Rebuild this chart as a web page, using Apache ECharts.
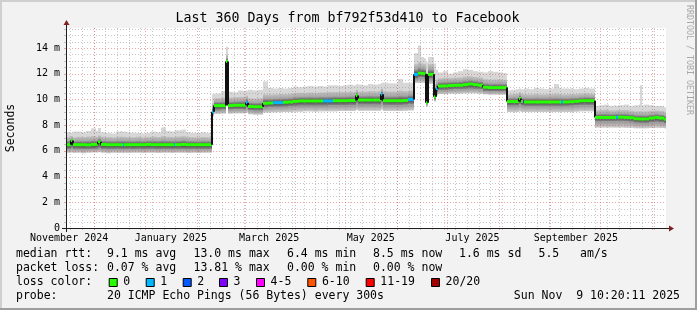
<!DOCTYPE html>
<html><head><meta charset="utf-8">
<script src="https://cdn.jsdelivr.net/npm/echarts@6/dist/echarts.min.js"></script>
<style>html,body{margin:0;padding:0;background:#f2f2f2}#c{width:697px;height:310px}</style>
</head><body><div id="c"></div>
<script>
// ---------------- data (days since graph start, 360 day window) ----------------
const TOTAL_DAYS = 360;
const dayStart = [0,3,4,6,9,12,15,18,19,21,24,27,30,33,34,35,36,39,42,45,48,51,54,57,60,63,64.5,65.5,69,72,75,78,81,84,
87.8,89,93,96.2,97,100,103,106,108,109,112,115,118,121,124,127,130,133,136,139,142,145,148,151,154,157,160,163,166,169,172,174,175,178,181,184,187,189,190,193,196,199,202,205,
208.8,211.2,213,215,216.2,217,220.8,222,223.2,226,229,232,235,238,241,244,247,250,253,256,259,262,
264.3,267,270,272,273,274,275,278,281,284,287,290,293,296,297.2,298.2,302,305,308,311,314,
317.4,320,323,326,329,330,331,335,338,341,344,344.5,345.3,347,350,353,356,358.5];
// median rtt (ms)
const median = [6.48,6.80,6.48,6.48,6.48,6.46,6.50,6.52,6.70,6.50,6.48,6.48,6.48,6.48,6.48,6.48,6.48,6.48,6.48,6.48,6.50,6.48,6.48,6.48,6.48,6.48,6.48,6.48,6.50,6.48,6.48,6.48,6.48,6.48,
9.05,9.52,9.52,12.95,9.52,9.55,9.55,9.55,9.75,9.45,9.43,9.43,9.70,9.72,9.75,9.75,9.78,9.80,9.85,9.88,9.88,9.88,9.88,9.88,9.88,9.88,9.90,9.90,9.90,9.92,9.92,10.30,9.95,9.95,9.95,9.95,9.95,10.40,9.90,9.90,9.90,9.90,9.92,10.00,
11.95,12.05,12.03,12.00,9.75,11.95,10.20,10.85,11.04,11.05,11.08,11.10,11.10,11.15,11.20,11.15,11.10,10.95,10.92,10.92,10.92,10.92,
9.83,9.83,9.83,10.08,9.83,9.83,9.80,9.80,9.80,9.80,9.80,9.80,9.80,9.80,9.80,9.80,9.82,9.85,9.90,9.90,9.90,
8.60,8.60,8.60,8.60,8.60,8.62,8.62,8.60,8.58,8.50,8.48,8.48,8.48,8.48,8.55,8.60,8.55,8.45];
// lost pings out of 20
const lossPings = [0,0,0,0,0,0,0,0,0,0,0,0,0,0,1,0,0,0,0,0,0,0,0,0,0,0,1,0,0,0,0,0,0,0,
1,0,0,0,0,0,0,0,1,0,0,0,0,0,1,1,0,0,0,0,0,0,0,0,1,1,0,0,0,0,0,0,0,0,0,0,0,1,0,0,0,0,0,1,
1,0,0,0,0,0,0,1,0,0,0,0,0,0,0,0,0,0,0,0,0,0,
0,0,0,0,0,3,0,0,0,0,0,0,0,0,1,0,0,0,0,0,0,
0,0,0,0,0,1,0,0,0,0,0,0,0,0,0,0,0,0];
// smoke: highest ping
const smokeMax = [7.45,7.40,7.50,7.50,7.45,7.55,7.75,7.55,7.78,7.45,7.40,7.35,7.50,7.55,7.45,7.50,7.45,7.40,7.40,7.35,7.40,7.50,7.45,7.82,7.55,7.50,7.50,7.60,7.65,7.45,7.40,7.40,7.45,7.40,
10.40,10.45,10.65,14.10,10.60,10.55,10.70,10.65,10.70,10.75,10.70,10.75,11.40,10.90,10.85,10.90,10.85,10.90,11.00,10.95,11.00,11.05,11.00,11.05,11.00,11.10,11.10,11.05,11.10,11.15,11.10,11.20,11.15,11.10,11.20,11.15,11.20,11.30,11.30,11.25,11.25,11.60,11.30,11.30,
13.60,14.20,13.30,13.20,12.90,13.30,12.80,12.30,12.10,12.20,12.00,12.10,12.20,12.35,12.30,12.20,12.15,12.10,12.20,12.15,12.10,12.05,
10.70,10.75,10.80,10.85,10.80,10.80,10.85,10.80,10.90,10.85,10.80,10.85,11.20,10.90,10.85,10.85,10.85,10.80,10.85,10.90,10.85,
9.50,9.55,9.60,9.50,9.55,9.50,9.55,9.60,9.50,9.55,9.60,11.10,9.55,9.60,9.55,9.50,9.50,9.40];
// smoke: upper edge of the denser part
const smokeHi = [7.08,7.15,7.05,7.10,7.08,7.12,7.15,7.10,7.20,7.10,7.08,7.05,7.10,7.12,7.08,7.10,7.08,7.06,7.10,7.05,7.08,7.12,7.08,7.15,7.10,7.08,7.08,7.12,7.15,7.08,7.06,7.05,7.08,7.06,
9.70,10.10,10.15,13.45,10.15,10.18,10.20,10.20,10.30,10.10,10.08,10.10,10.40,10.38,10.40,10.42,10.42,10.45,10.50,10.52,10.52,10.55,10.52,10.55,10.55,10.58,10.58,10.58,10.58,10.60,10.60,10.75,10.62,10.62,10.65,10.62,10.65,10.85,10.62,10.62,10.62,10.70,10.65,10.70,
12.75,12.90,12.80,12.75,10.90,12.75,11.20,11.55,11.65,11.68,11.68,11.70,11.72,11.78,11.80,11.75,11.70,11.58,11.55,11.56,11.55,11.52,
10.40,10.42,10.45,10.55,10.42,10.42,10.40,10.40,10.42,10.40,10.40,10.42,10.45,10.42,10.40,10.40,10.42,10.42,10.45,10.48,10.45,
9.15,9.18,9.20,9.15,9.15,9.18,9.18,9.18,9.12,9.08,9.08,9.10,9.06,9.08,9.12,9.15,9.10,9.05];
// smoke: lower edge of the dark core
const smokeDark = [6.12,6.20,6.12,6.12,6.10,6.12,6.12,6.15,6.20,6.12,6.10,6.12,6.12,6.12,6.10,6.12,6.12,6.10,6.12,6.10,6.12,6.12,6.10,6.12,6.12,6.10,6.12,6.12,6.12,6.10,6.12,6.10,6.12,6.12,
8.90,9.18,9.20,12.80,9.20,9.22,9.22,9.22,9.35,9.15,9.12,9.12,9.35,9.38,9.40,9.40,9.42,9.45,9.48,9.50,9.50,9.50,9.50,9.50,9.50,9.52,9.52,9.52,9.52,9.55,9.55,9.70,9.58,9.58,9.58,9.58,9.58,9.80,9.55,9.55,9.55,9.55,9.58,9.62,
11.60,11.70,11.70,11.65,9.65,11.60,10.00,10.55,10.72,10.72,10.75,10.78,10.78,10.80,10.82,10.80,10.78,10.65,10.62,10.62,10.62,10.62,
9.50,9.50,9.50,9.60,9.50,9.50,9.48,9.48,9.48,9.48,9.48,9.48,9.48,9.48,9.48,9.48,9.50,9.52,9.55,9.55,9.55,
8.28,8.28,8.28,8.28,8.28,8.30,8.30,8.28,8.25,8.18,8.15,8.15,8.15,8.15,8.20,8.25,8.20,8.12];
// smoke: lowest ping
const smokeMin = [5.85,5.88,5.84,5.86,5.82,5.86,5.88,5.88,5.90,5.86,5.82,5.86,5.84,5.86,5.82,5.86,5.84,5.86,5.86,5.84,5.86,5.86,5.84,5.86,5.86,5.84,5.86,5.86,5.86,5.84,5.86,5.84,5.86,5.86,
8.70,8.88,8.90,12.70,8.90,8.92,8.92,8.92,8.98,8.85,8.82,8.82,8.98,9.00,9.00,9.02,9.02,9.02,9.05,9.05,9.08,9.08,9.05,9.08,9.08,9.08,9.08,9.10,9.10,9.10,9.10,9.18,9.12,9.12,9.12,9.12,9.12,9.22,9.10,9.10,9.10,9.10,9.12,9.15,
11.28,11.28,11.30,11.28,9.45,11.22,9.85,10.32,10.42,10.42,10.45,10.45,10.45,10.48,10.48,10.48,10.45,10.40,10.38,10.38,10.38,10.38,
9.02,9.02,9.02,9.08,9.02,9.02,9.02,9.02,9.02,9.02,9.02,9.02,9.02,9.02,9.02,9.02,9.02,9.05,9.08,9.08,9.08,
7.82,7.82,7.82,7.82,7.82,7.82,7.82,7.80,7.80,7.76,7.76,7.76,7.76,7.76,7.78,7.80,7.78,7.76];

// axes / labels
const Y_MAX = 15.556;
const yMajor = [2,4,6,8,10,12,14];
const monthLabels = ['November 2024','January 2025','March 2025','May 2025','July 2025','September 2025'];
const monthLabelDays = [1.87,62.87,121.87,182.87,243.87,305.87];
const monthLineDays = [16.57,47.57,78.57,106.57,137.57,167.57,198.57,228.57,259.57,290.57,320.57,351.57];
const firstSundayDay = 2.57;
const lossThresholds = [0,1,2,3,4,6,11,20];
const lossLabels = ['0','1','2','3','4-5','6-10','11-19','20/20'];
const lossColors = ['#26ff00','#00b8ff','#0059ff','#7e00ff','#ff00ff','#ff5500','#ff0000','#a10000'];
const titleText = 'Last 360 Days from bf792f53d410 to Facebook';
const rttLegend = ['median rtt:','9.1 ms avg','13.0 ms max','6.4 ms min','8.5 ms now','1.6 ms sd','5.5   am/s'];
const lossLegend = ['packet loss:','0.07 % avg','13.81 % max','0.00 % min','0.00 % now'];
const probeText = ['probe:','20 ICMP Echo Pings (56 Bytes) every 300s','Sun Nov  9 10:20:11 2025'];

// ---------------- build ----------------
const MONO = '"DejaVu Sans Mono", "Liberation Mono", monospace';
function lossColor(n){let k=0;for(let i=0;i<lossThresholds.length;i++) if(n>=lossThresholds[i]) k=i;return lossColors[k];}
const bins = dayStart.map((d,i)=>[d, i<dayStart.length-1?dayStart[i+1]:TOTAL_DAYS, median[i], lossPings[i], smokeMax[i], smokeHi[i], smokeDark[i], smokeMin[i]]);

const gridData = [];
for(let d=firstSundayDay; d<TOTAL_DAYS-1; d+=7) gridData.push([0,d]);
monthLineDays.forEach(d=>gridData.push([1,d]));
for(let v=0.5; v<Y_MAX; v+=0.5){ if(Math.abs(v/2-Math.round(v/2))>1e-6) gridData.push([2,v]); }
yMajor.forEach(v=>gridData.push([3,v]));

function smokeItem(params, api){
  const d0=api.value(0), d1=api.value(1), med=api.value(2), mx=api.value(4), hi=api.value(5), dk=api.value(6), mn=api.value(7);
  const x0=Math.round(api.coord([d0,0])[0]), x1=Math.round(api.coord([d1,0])[0]);
  const w=Math.max(1,x1-x0);
  const Y=v=>api.coord([d0,v])[1];
  const rect=(top,bot,fill)=>({type:'rect',shape:{x:x0,y:Y(top),width:w,height:Math.max(0,Y(bot)-Y(top))},style:{fill:fill}});
  const t=Math.min(0.95,Math.max(0.05,(hi-med)/(hi-dk)));
  return {type:'group',children:[
    rect(mx,mn,'#d7d7d7'),
    rect(dk,mn,new echarts.graphic.LinearGradient(0,0,0,1,[{offset:0,color:'#959595'},{offset:1,color:'#cdcdcd'}])),
    rect(hi,dk,new echarts.graphic.LinearGradient(0,0,0,1,[{offset:0,color:'#c2c2c2'},{offset:t*0.5,color:'#a6a6a6'},{offset:t,color:'#3c3c3c'},{offset:1,color:'#8c8c8c'}]))
  ]};
}
function medItem(params, api){
  const i=params.dataIndex;
  const d0=api.value(0), d1=api.value(1), med=api.value(2), loss=api.value(3);
  const x0=Math.round(api.coord([d0,0])[0]), x1=Math.round(api.coord([d1,0])[0]);
  const w=Math.max(1,x1-x0);
  const y=api.coord([d0,med])[1];
  const ch=[];
  if(i>0){const py=api.coord([d0,median[i-1]])[1]; if(Math.abs(py-y)>1.5) ch.push({type:'line',shape:{x1:x0,y1:py,x2:x0,y2:y},style:{stroke:'#111',lineWidth:2}});}
  ch.push({type:'rect',shape:{x:x0,y:y-1.5,width:w,height:3},style:{fill:lossColor(loss)}});
  return {type:'group',children:ch};
}
function gridItem(params, api){
  const kind=api.value(0), v=api.value(1), cs=params.coordSys;
  const color=(kind===1||kind===3)?'rgba(222,79,79,0.5)':'rgba(143,143,143,0.5)';
  if(kind<=1){
    const x=Math.round(api.coord([v,0])[0])+0.5;
    return {type:'group',children:[
      {type:'line',shape:{x1:x,y1:cs.y,x2:x,y2:cs.y+cs.height},style:{stroke:color,lineWidth:1,lineDash:[1,2]}},
      {type:'line',shape:{x1:x,y1:cs.y+cs.height,x2:x,y2:cs.y+cs.height+2},style:{stroke:color,lineWidth:1}}]};
  }
  const y=Math.round(api.coord([0,v])[1])+0.5;
  return {type:'group',children:[
    {type:'line',shape:{x1:cs.x,y1:y,x2:cs.x+cs.width,y2:y},style:{stroke:color,lineWidth:1,lineDash:[1,2]}},
    {type:'line',shape:{x1:cs.x-2,y1:y,x2:cs.x,y2:y},style:{stroke:color,lineWidth:1}}]};
}

const G={left:66,top:28,width:600,height:200};
const X0=G.left, X1=G.left+G.width, Y0=G.top+G.height, Y1=G.top;
const graphics=[
  {type:'rect',shape:{x:0,y:0,width:697,height:2},style:{fill:'#cfcfcf'},silent:true},
  {type:'rect',shape:{x:0,y:0,width:2,height:310},style:{fill:'#cfcfcf'},silent:true},
  {type:'rect',shape:{x:0,y:308,width:697,height:2},style:{fill:'#9e9e9e'},silent:true},
  {type:'rect',shape:{x:695,y:0,width:2,height:310},style:{fill:'#9e9e9e'},silent:true},
  {type:'line',shape:{x1:X0-4,y1:Y0+0.5,x2:X1+4,y2:Y0+0.5},style:{stroke:'#1f1f1f',lineWidth:1},z:50},
  {type:'line',shape:{x1:X0+0.5,y1:Y0+4,x2:X0+0.5,y2:Y1-4},style:{stroke:'#1f1f1f',lineWidth:1},z:50},
  {type:'polygon',shape:{points:[[X1+3,Y0-2.5],[X1+8,Y0+0.5],[X1+3,Y0+3.5]]},style:{fill:'#801f1f'},z:50},
  {type:'polygon',shape:{points:[[X0-2.5,Y1-3],[X0+0.5,Y1-8],[X0+3.5,Y1-3]]},style:{fill:'#801f1f'},z:50},
  {type:'text',x:347.5,y:19,style:{text:titleText,font:'13.3px '+MONO,fill:'#000',align:'center',verticalAlign:'middle'}},
  {type:'text',x:11,y:128,rotation:Math.PI/2,style:{text:'Seconds',font:'11.5px '+MONO,fill:'#000',align:'center',verticalAlign:'middle'}},
  {type:'text',x:689,y:60,rotation:-Math.PI/2,style:{text:'RRDTOOL / TOBI OETIKER',font:'8.3px '+MONO,fill:'#a8a8a8',align:'center',verticalAlign:'middle'}}
];
const legX=[16,107,193.5,287,373,459,538.5];
const LF='11.5px '+MONO;
rttLegend.forEach((s,i)=>graphics.push({type:'text',x:legX[i],y:254.5,style:{text:s,font:LF,fill:'#000',verticalAlign:'middle'}}));
lossLegend.forEach((s,i)=>graphics.push({type:'text',x:legX[i],y:268,style:{text:s,font:LF,fill:'#000',verticalAlign:'middle'}}));
graphics.push({type:'text',x:16,y:282,style:{text:'loss color:',font:LF,fill:'#000',verticalAlign:'middle'}});
const boxX=[108.7,145.7,182.7,219,256,307.3,365.7,431];
lossLabels.forEach((s,i)=>{
  graphics.push({type:'rect',shape:{x:boxX[i]+0.5,y:278.5,width:8,height:8},style:{fill:lossColors[i],stroke:'#000',lineWidth:1}});
  graphics.push({type:'text',x:boxX[i]+14.6,y:282,style:{text:s,font:LF,fill:'#000',verticalAlign:'middle'}});
});
graphics.push({type:'text',x:16,y:295.8,style:{text:probeText[0],font:LF,fill:'#000',verticalAlign:'middle'}});
graphics.push({type:'text',x:107,y:295.8,style:{text:probeText[1],font:LF,fill:'#000',verticalAlign:'middle'}});
graphics.push({type:'text',x:680,y:295.8,style:{text:probeText[2],font:LF,fill:'#000',align:'right',verticalAlign:'middle'}});

const chart=echarts.init(document.getElementById('c'),null,{renderer:'canvas',width:697,height:310});
chart.setOption({
  animation:false,
  backgroundColor:'#f2f2f2',
  grid:{left:G.left,top:G.top,width:G.width,height:G.height,show:true,backgroundColor:'#ffffff',borderWidth:0},
  xAxis:{type:'value',min:0,max:TOTAL_DAYS,axisLine:{show:false},axisTick:{show:false},splitLine:{show:false},
    axisLabel:{customValues:monthLabelDays,margin:5,fontFamily:MONO,fontSize:10,color:'#000',
      formatter:v=>{const k=monthLabelDays.findIndex(d=>Math.abs(d-v)<1e-6);return k>=0?monthLabels[k]:'';}}},
  yAxis:{type:'value',min:0,max:Y_MAX,interval:2,axisLine:{show:false},axisTick:{show:false},splitLine:{show:false},
    axisLabel:{margin:6,fontFamily:MONO,fontSize:10,color:'#000',
      formatter:v=>{if(v===0) return '0'; return yMajor.indexOf(v)>=0? v+' m':'';}}},
  graphic:{elements:graphics},
  series:[
    {type:'custom',name:'smoke',z:2,data:bins,renderItem:smokeItem,encode:{x:[0,1],y:[4,7]},silent:true},
    {type:'custom',name:'grid',z:3,data:gridData,renderItem:gridItem,silent:true},
    {type:'custom',name:'median',z:4,data:bins,renderItem:medItem,encode:{x:[0,1],y:2},silent:true}
  ]
});
</script></body></html>
